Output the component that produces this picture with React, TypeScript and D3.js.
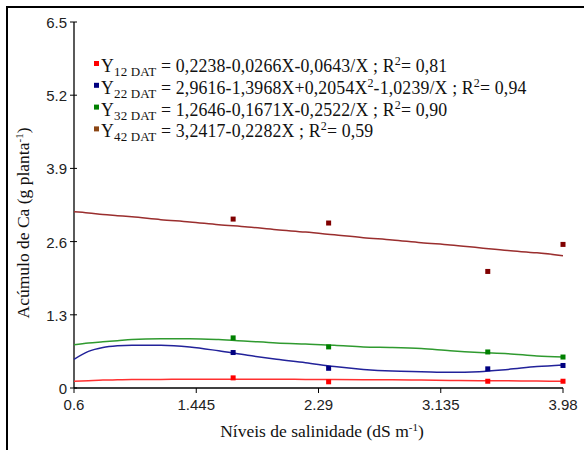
import React, { useRef, useEffect } from 'react';
import * as d3 from 'd3';

// observed salinity levels (dS m-1)
const levels = [1.7, 2.36, 3.46, 3.98];

// observed Ca accumulation per period
const obs12 = [0.18, 0.11, 0.12, 0.12];
const obs22 = [0.63, 0.35, 0.34, 0.40];
const obs32 = [0.89, 0.73, 0.64, 0.55];
const obs42 = [3.0, 2.93, 2.07, 2.55];

// fitted curves
const fitX = [0.6, 0.7, 0.8, 0.9, 1.0, 1.2, 1.4, 1.6, 1.8, 2.0, 2.2, 2.4, 2.6, 2.8, 3.0, 3.2, 3.4, 3.6, 3.8, 3.98];
const fit12 = [0.12, 0.13, 0.14, 0.145, 0.15, 0.152, 0.155, 0.155, 0.155, 0.155, 0.152, 0.15, 0.148, 0.145, 0.14, 0.135, 0.13, 0.127, 0.123, 0.12];
const fit22 = [0.51, 0.65, 0.72, 0.75, 0.76, 0.76, 0.73, 0.66, 0.58, 0.51, 0.45, 0.38, 0.33, 0.30, 0.29, 0.28, 0.29, 0.33, 0.38, 0.41];
const fit32 = [0.77, 0.80, 0.82, 0.84, 0.86, 0.875, 0.876, 0.86, 0.83, 0.80, 0.78, 0.76, 0.73, 0.72, 0.70, 0.66, 0.63, 0.61, 0.57, 0.55];
const fit42 = [3.13, 3.11, 3.08, 3.06, 3.04, 2.99, 2.95, 2.90, 2.86, 2.81, 2.77, 2.72, 2.67, 2.63, 2.58, 2.54, 2.49, 2.44, 2.40, 2.35];

const xTicks = [0.6, 1.445, 2.29, 3.135, 3.98];
const yTicks = [0, 1.3, 2.6, 3.9, 5.2, 6.5];

const legendRows = [
    { sub: '12 DAT', eq: ' = 0,2238-0,0266X-0,0643/X ; R', sup2: '', tail: '', r2: '= 0,81', color: '#ff0000' },
    { sub: '22 DAT', eq: ' = 2,9616-1,3968X+0,2054X', sup2: '2', tail: '-1,0239/X ; R', r2: '= 0,94', color: '#000080' },
    { sub: '32 DAT', eq: ' = 1,2646-0,1671X-0,2522/X ; R', sup2: '', tail: '', r2: '= 0,90', color: '#008000' },
    { sub: '42 DAT', eq: ' = 3,2417-0,2282X ; R', sup2: '', tail: '', r2: '= 0,59', color: '#8b4513' },
];

const series = [
    { fit: fit12, obs: obs12, line: '#ff3030', point: '#ff0000' },
    { fit: fit22, obs: obs22, line: '#22229a', point: '#000080' },
    { fit: fit32, obs: obs32, line: '#2f9a2f', point: '#008000' },
    { fit: fit42, obs: obs42, line: '#9a2e2e', point: '#800000' },
];

const drawChart = (svg: d3.Selection<SVGSVGElement, unknown, null, undefined>): void => {
    svg.selectAll('*').remove();

    // outer frame
    svg.append('rect')
        .attr('x', 7).attr('y', 7)
        .attr('width', 620).attr('height', 480)
        .attr('fill', 'none').attr('stroke', '#000').attr('stroke-width', 2);

    const x = d3.scaleLinear().domain([0.6, 3.98]).range([74, 563]);
    const y = d3.scaleLinear().domain([0, 6.5]).range([388, 22]);

    const g = svg.append('g');

    // axes
    g.append('line').attr('x1', x(0.6)).attr('x2', x(3.98)).attr('y1', y(0)).attr('y2', y(0))
        .attr('stroke', '#000').attr('stroke-width', 1.3);
    g.append('line').attr('x1', x(0.6)).attr('x2', x(0.6)).attr('y1', y(0)).attr('y2', y(6.5))
        .attr('stroke', '#000').attr('stroke-width', 1.3);

    yTicks.forEach(t => {
        g.append('line').attr('x1', x(0.6) - 4).attr('x2', x(0.6) + 3).attr('y1', y(t)).attr('y2', y(t))
            .attr('stroke', '#000');
        g.append('text').attr('x', x(0.6) - 7).attr('y', y(t) + 6)
            .attr('text-anchor', 'end')
            .attr('font-family', 'Liberation Sans, Arial, sans-serif').attr('font-size', 15)
            .attr('fill', '#222')
            .text(String(t));
    });

    xTicks.forEach(t => {
        g.append('line').attr('x1', x(t)).attr('x2', x(t)).attr('y1', y(0)).attr('y2', y(0) + 5)
            .attr('stroke', '#000');
        g.append('text').attr('x', x(t)).attr('y', 410)
            .attr('text-anchor', 'middle')
            .attr('font-family', 'Liberation Sans, Arial, sans-serif').attr('font-size', 15)
            .attr('fill', '#222')
            .text(String(t));
    });

    // curves
    const line = d3.line<number>()
        .x((_, i) => x(fitX[i]))
        .y(d => y(d))
        .curve(d3.curveMonotoneX);

    series.forEach(s => {
        g.append('path').attr('d', line(s.fit)!)
            .attr('fill', 'none').attr('stroke', s.line).attr('stroke-width', 1.5);
    });

    series.forEach(s => {
        g.selectAll(null).data(s.obs).enter().append('rect')
            .attr('x', (_, i) => x(levels[i]) - 2.5)
            .attr('y', d => y(d) - 2.5)
            .attr('width', 5).attr('height', 5)
            .attr('fill', s.point);
    });

    // legend
    const lg = svg.append('g').attr('font-family', 'Liberation Serif, Times New Roman, serif').attr('fill', '#111');
    legendRows.forEach((r, i) => {
        const by = 72 + i * 21.8;
        lg.append('rect').attr('x', 94).attr('y', by - 11).attr('width', 5).attr('height', 5).attr('fill', r.color);
        const t = lg.append('text').attr('x', 101).attr('y', by).attr('font-size', 17.8)
            .attr('letter-spacing', 0.15);
        t.append('tspan').text('Y');
        t.append('tspan').attr('font-size', 13).attr('dy', 4).text(r.sub);
        t.append('tspan').attr('dy', -4).text(r.eq);
        if (r.sup2) {
            t.append('tspan').attr('font-size', 12).attr('dy', -7).text(r.sup2);
            t.append('tspan').attr('dy', 7).text(r.tail);
        }
        t.append('tspan').attr('font-size', 12).attr('dy', -7).text('2');
        t.append('tspan').attr('dy', 7).text(r.r2);
    });

    // axis titles
    const xt = svg.append('text').attr('x', 322).attr('y', 437)
        .attr('text-anchor', 'middle')
        .attr('font-family', 'Liberation Serif, Times New Roman, serif').attr('font-size', 17.5).attr('fill', '#111');
    xt.append('tspan').text('Níveis de salinidade (dS m');
    xt.append('tspan').attr('font-size', 11).attr('dy', -6).text('-1');
    xt.append('tspan').attr('dy', 6).text(')');

    const yt = svg.append('text').attr('transform', 'translate(29,223) rotate(-90)')
        .attr('text-anchor', 'middle')
        .attr('font-family', 'Liberation Serif, Times New Roman, serif').attr('font-size', 17.5).attr('fill', '#111');
    yt.append('tspan').text('Acúmulo de Ca (g planta');
    yt.append('tspan').attr('font-size', 11).attr('dy', -6).text('-1');
    yt.append('tspan').attr('dy', 6).text(')');
};

const App: React.FC = () => {
    const ref = useRef<SVGSVGElement>(null);

    useEffect(() => {
        if (ref.current) {
            drawChart(d3.select(ref.current));
        }
    }, []);

    return (
        <svg ref={ref} width={584} height={450}
            style={{ position: 'absolute', left: 0, top: 0, background: '#fff' }} />
    );
};

export default App;
